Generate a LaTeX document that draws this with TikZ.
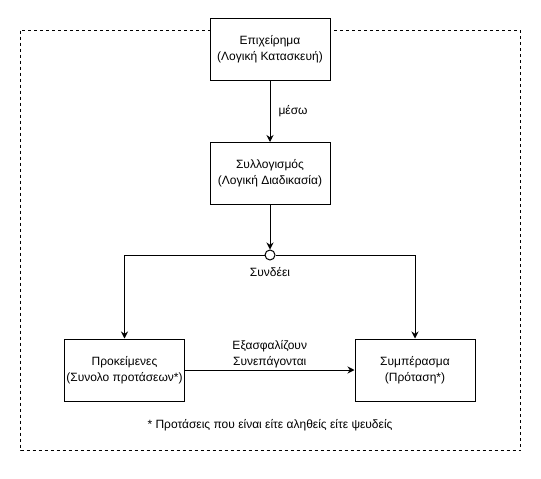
\documentclass[tikz,border=0pt]{standalone}
\usepackage{fontspec}
\setmainfont{Liberation Sans}
\usetikzlibrary{arrows.meta}
\begin{document}
\begin{tikzpicture}[x=1pt,y=-1pt,
  box/.style={draw,line width=1pt,minimum width=120pt,minimum height=62pt,align=center,inner sep=0pt,font=\fontsize{12}{16}\selectfont},
  lbl/.style={font=\fontsize{12}{16}\selectfont,align=center,inner sep=0pt},
  arr/.style={line width=1pt,-{Stealth[length=7pt,width=7pt]}}]
\useasboundingbox (0,0) rectangle (541,479);
\draw[line width=1pt,dash pattern=on 3pt off 3pt] (20.5,30.5) rectangle (520.5,450.5);
\node[box,fill=white] (arg) at (270,49) {Επιχείρημα\\(Λογική Κατασκευή)};
\node[box] (syl) at (270,173.5) {Συλλογισμός\\(Λογική Διαδικασία)};
\node[draw,line width=1pt,circle,minimum size=10pt,inner sep=0pt,fill=white] (j) at (270,255) {};
\node[box] (pro) at (124.5,370) {Προκείμενες\\(Συνολο προτάσεων*)};
\node[box] (sym) at (415,370) {Συμπέρασμα\\(Πρόταση*)};
\draw[arr] (arg) -- node[lbl,right=8pt] {μέσω} (syl);
\draw[arr] (syl) -- (j);
\draw[arr] (j.west) -| (pro.north);
\draw[arr] (j.east) -| (sym.north);
\node[lbl] (sd) at (270,272) {Συνδέει};
\draw[arr] (pro) -- node[lbl,above=1.5pt] {Εξασφαλίζουν\\Συνεπάγονται} (sym);
\node[lbl] (fn) at (270,425) {* Προτάσεις που είναι είτε αληθείς είτε ψευδείς};
\end{tikzpicture}
\end{document}
